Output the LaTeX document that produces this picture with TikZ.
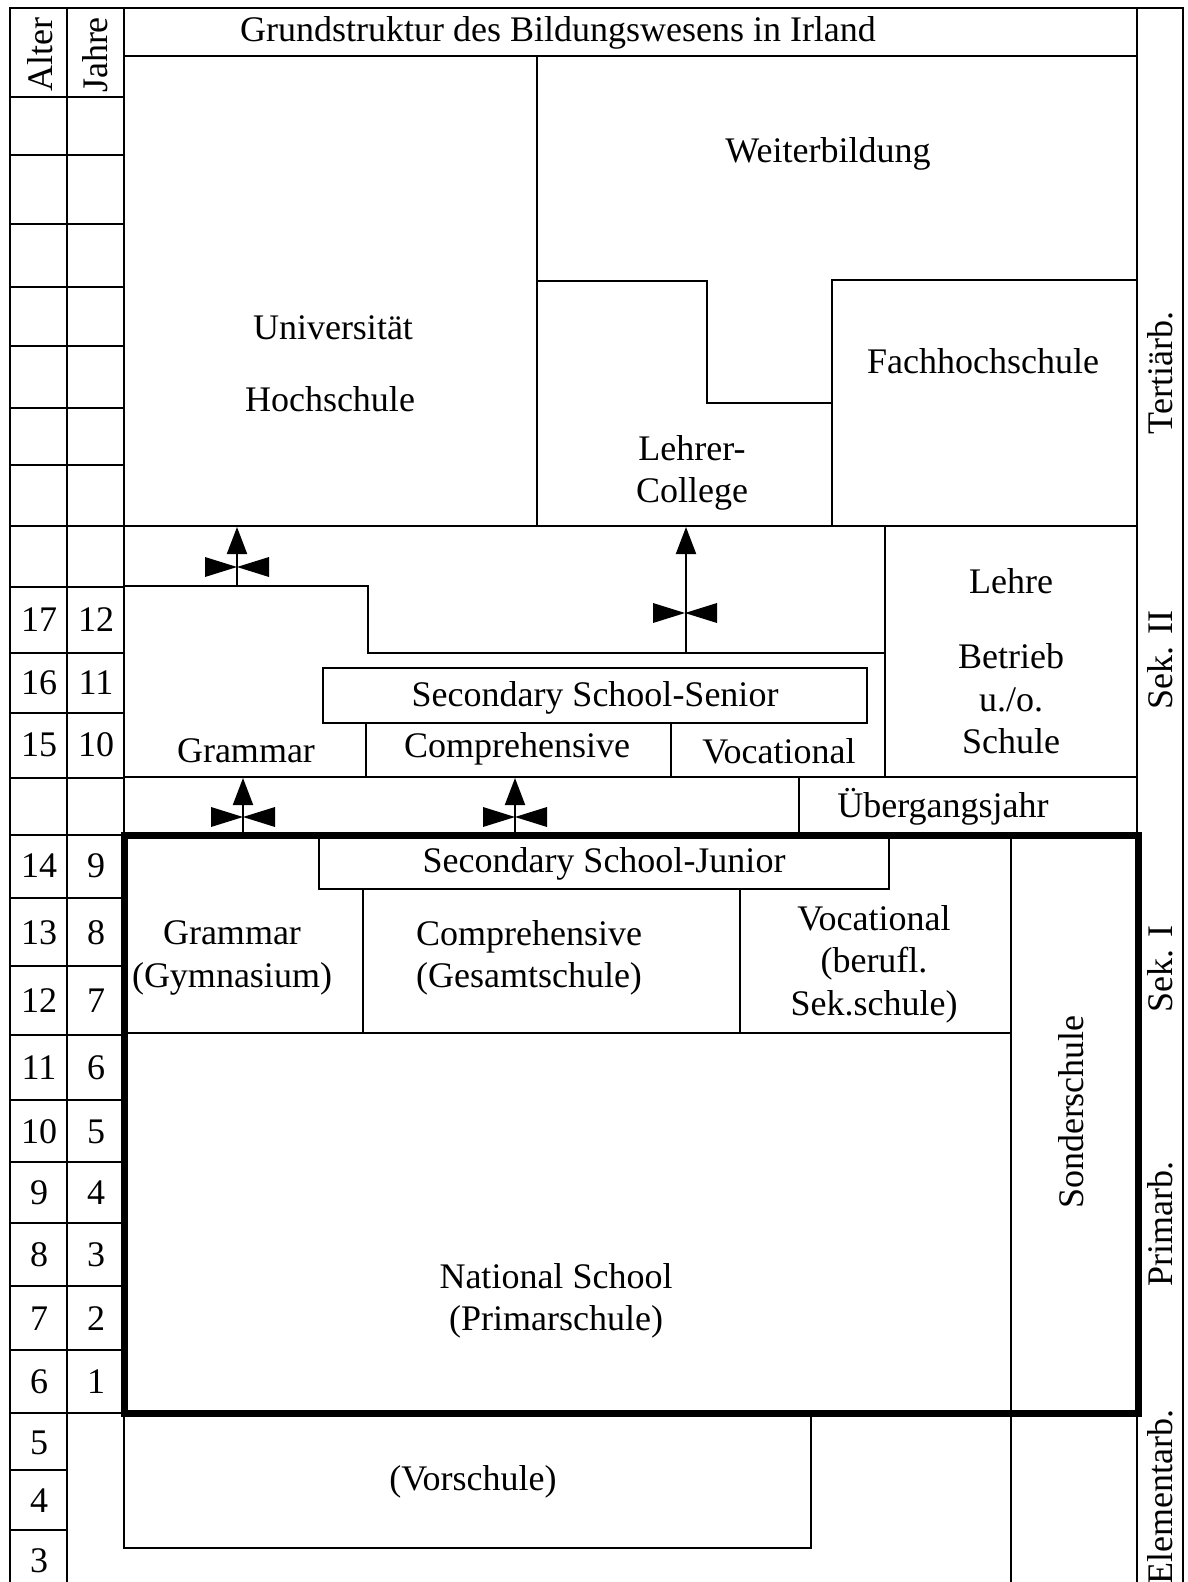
\documentclass[tikz,border=0pt]{standalone}
\usepackage{fontspec}
\setmainfont{Liberation Serif}
\usetikzlibrary{arrows.meta}
\begin{document}
\begin{tikzpicture}[x=1pt,y=-1pt,
  ln/.style={line width=2pt,line cap=rect},
  thickln/.style={line width=7pt,line join=miter},
  lbl/.style={font=\fontsize{36}{42.5}\selectfont,align=center,inner sep=0pt},
  rot/.style={lbl,rotate=90},
  arr/.style={line width=2pt,-{Triangle[length=27pt,width=20pt]}},
  valve/.pic={\fill (-32,-10) -- (0,0) -- (-32,10) -- cycle;
              \fill (32,-10) -- (0,0) -- (32,10) -- cycle;}]
\useasboundingbox (0,0) rectangle (1187,1582);
\fill[white] (0,0) rectangle (1187,1582);

% ---------- outer frame and columns ----------
\draw[ln] (10,8) -- (1183,8);
\draw[ln] (10,8) -- (10,1582);
\draw[ln] (67,8) -- (67,1582);
\draw[ln] (124,8) -- (124,1548);
\draw[ln] (1137,8) -- (1137,1582);
\draw[ln] (1183,8) -- (1183,1582);
\draw[ln] (124,56) -- (1137,56);

% age rows
\foreach \y in {97,155,224,287,346,408,465,526,587,653,713,778,835,898,966,1035,1100,1162,1223,1286,1350,1413}
  \draw[ln] (10,\y) -- (124,\y);
\foreach \y in {1470,1530}
  \draw[ln] (10,\y) -- (67,\y);

% ---------- tertiary ----------
\draw[ln] (537,56) -- (537,526);
\draw[ln] (537,281) -- (707,281) -- (707,403) -- (832,403) -- (832,280) -- (1137,280);
\draw[ln] (832,403) -- (832,526);
\draw[ln] (124,526) -- (1137,526);

% ---------- Sek II ----------
\draw[ln] (124,586) -- (368,586) -- (368,653) -- (885,653);
\draw[ln] (885,526) -- (885,777);
\draw[ln] (323,668) rectangle (867,723);
\draw[ln] (366,723) -- (366,777);
\draw[ln] (671,723) -- (671,777);
\draw[ln] (124,777) -- (1137,777);
\draw[ln] (799,777) -- (799,835);

% ---------- Sek I / Primar ----------
\draw[ln] (319,835) -- (319,889) -- (889,889) -- (889,835);
\draw[ln] (363,889) -- (363,1033);
\draw[ln] (740,889) -- (740,1033);
\draw[ln] (124,1033) -- (1011,1033);
\draw[ln] (1011,835) -- (1011,1582);

% ---------- Elementar ----------
\draw[ln] (124,1548) -- (811,1548) -- (811,1413);

% thick frame
\draw[thickln] (124,835) rectangle (1138,1413);

% ---------- arrows with valves ----------
\coordinate (a1s) at (237,586);  \coordinate (a1e) at (237,527);
\coordinate (a2s) at (686,653);  \coordinate (a2e) at (686,527);
\coordinate (a3s) at (243,832);  \coordinate (a3e) at (243,778);
\coordinate (a4s) at (515,832);  \coordinate (a4e) at (515,778);
\draw[arr] (a1s) -- (a1e);
\draw[arr] (a2s) -- (a2e);
\draw[arr] (a3s) -- (a3e);
\draw[arr] (a4s) -- (a4e);
\pic at (237,567) {valve};
\pic at (685,613) {valve};
\pic at (243,817) {valve};
\pic at (515,817) {valve};

% ---------- texts ----------
\node[lbl] (title) at (558,33) {Grundstruktur des Bildungswesens in Irland};
\node[rot] (alter) at (40,55) {Alter};
\node[rot] (jahre) at (95,55) {Jahre};

\node[lbl] (weiter) at (828,154) {Weiterbildung};
\node[lbl] (uni) at (333,328) {Universität};
\node[lbl] (hoch) at (330,399) {Hochschule};
\node[lbl] (fhs) at (983,361) {Fachhochschule};
\node[lbl] (lehrer) at (692,473) {Lehrer-\\College};

\node[lbl] (lehre) at (1011,581) {Lehre};
\node[lbl] (betrieb) at (1011,699) {Betrieb\\u./o.\\Schule};

\node[lbl] (senior) at (595,698) {Secondary School-Senior};
\node[lbl] (gram2) at (246,751) {Grammar};
\node[lbl] (comp2) at (517,749) {Comprehensive};
\node[lbl] (voc2) at (779,751) {Vocational};
\node[lbl] (ueber) at (943,807) {Übergangsjahr};

\node[lbl] (junior) at (604,864) {Secondary School-Junior};
\node[lbl] (gram1) at (232,958) {Grammar\\(Gymnasium)};
\node[lbl] (comp1) at (529,958) {Comprehensive\\(Gesamtschule)};
\node[lbl] (voc1) at (874,964) {Vocational\\(berufl.\\Sek.schule)};
\node[rot] (sonder) at (1071,1112) {Sonderschule};

\node[lbl] (national) at (556,1301) {National School\\(Primarschule)};
\node[lbl] (vorschule) at (473,1482) {(Vorschule)};

% stage labels
\node[rot] (tert) at (1160,373) {Tertiärb.};
\node[rot] (sek2) at (1160,660) {Sek. II};
\node[rot] (sek1) at (1160,969) {Sek. I};
\node[rot] (prim) at (1160,1224) {Primarb.};
\node[rot] (elem) at (1160,1497) {Elementarb.};

% age numbers
\foreach \y/\a/\j in {620/17/12,683/16/11,745/15/10,866/14/9,933/13/8,1001/12/7,1068/11/6,1132/10/5,1193/9/4,1255/8/3,1319/7/2,1382/6/1}{
  \node[lbl] (alter\a) at (39,\y) {\a};
  \node[lbl] (jahr\j) at (96,\y) {\j};
}
\node[lbl] (alter5) at (39,1443) {5};
\node[lbl] (alter4) at (39,1501) {4};
\node[lbl] (alter3) at (39,1561) {3};
\end{tikzpicture}
\end{document}
